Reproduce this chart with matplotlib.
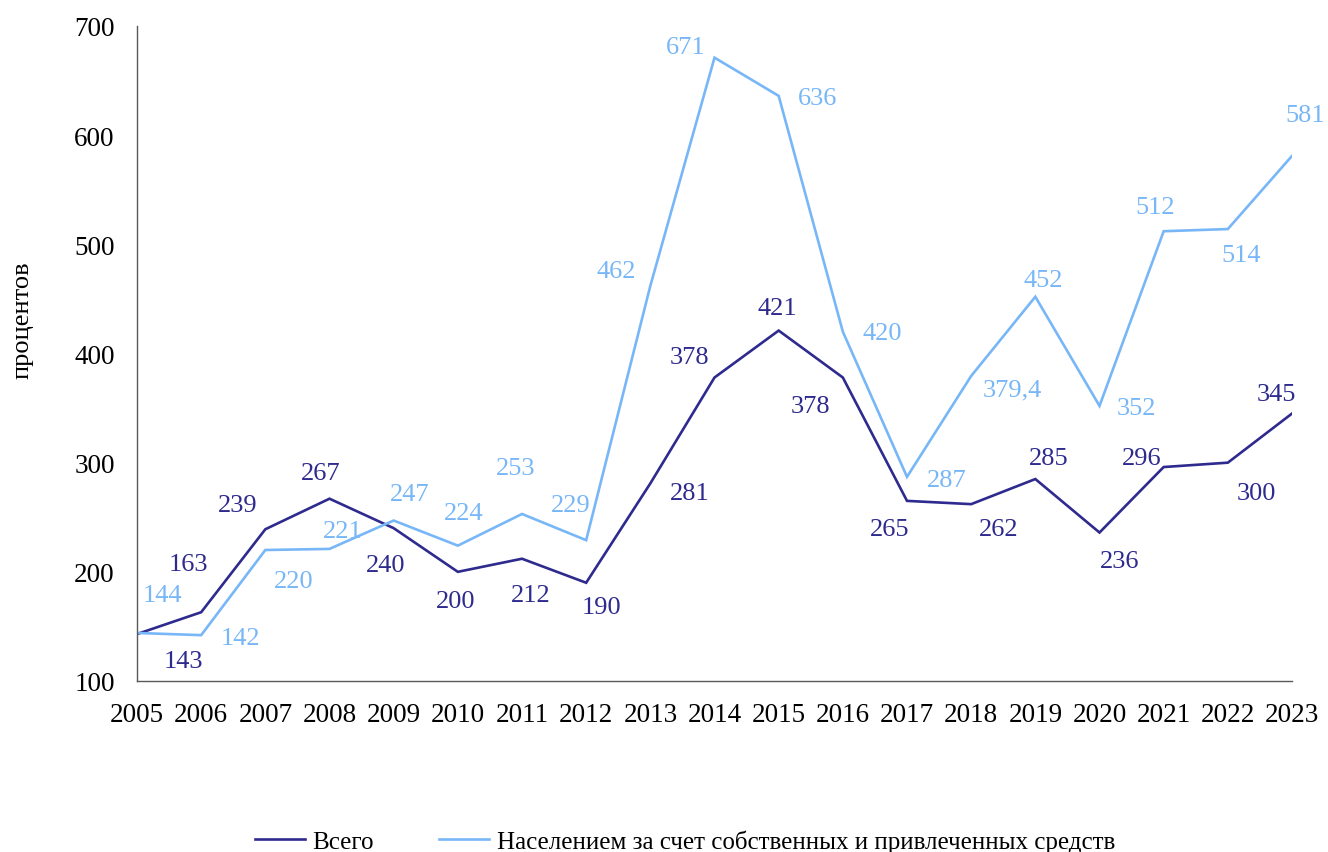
import matplotlib
matplotlib.use("Agg")
import matplotlib.pyplot as plt

years = [str(y) for y in range(2005, 2024)]
total = [143, 163, 239, 267, 240, 200, 212, 190, 281, 378, 421, 378, 265, 262, 285, 236, 296, 300, 345]
population = [144, 142, 220, 221, 247, 224, 253, 229, 462, 671, 636, 420, 287, 379.4, 452, 352, 512, 514, 581]
total_labels = ["143", "163", "239", "267", "240", "200", "212", "190", "281", "378", "421", "378",
                "265", "262", "285", "236", "296", "300", "345"]
pop_labels = ["144", "142", "220", "221", "247", "224", "253", "229", "462", "671", "636", "420",
              "287", "379,4", "452", "352", "512", "514", "581"]
series_names = ["Всего", "Населением за счет собственных и привлеченных средств"]
y_label = "процентов"

# label offsets in pixels (dx right, dy down)
total_off = [(46, 25), (-13, -50), (-28, -26), (-9, -28), (-8, 35), (-2, 27), (9, 34), (15, 22),
             (39, 8), (-25, -23), (-1, -25), (-32, 26), (-17, 26), (28, 23), (13, -23), (20, 26),
             (-22, -11), (29, 28), (-16, -22)]
pop_off = [(25, -40), (39, 1), (28, 29), (13, -20), (16, -29), (6, -35), (-6, -48), (-15, -37),
           (-34, -17), (-29, -13), (39, 0), (39, -1), (40, 1), (41, 11), (8, -19), (37, 0),
           (-8, -26), (13, 24), (13, -43)]

c_dark = "#2E2A8E"
c_light = "#78B7F7"

plt.rcParams['font.family'] = ['Liberation Serif', 'DejaVu Serif']

W, H = 1328, 853
fig = plt.figure(figsize=(W / 100, H / 100), dpi=100)
ax = fig.add_axes([137 / W, 1 - 682 / H, (1292 - 137) / W, (682 - 27) / H])

x = list(range(len(years)))
ax.plot(x, total, color=c_dark, lw=1.9, label=series_names[0], solid_joinstyle='miter')
ax.plot(x, population, color=c_light, lw=1.9, label=series_names[1], solid_joinstyle='miter')

px = 0.72  # points per pixel
for i in x:
    dx, dy = total_off[i]
    ax.annotate(total_labels[i], (i, total[i]), xytext=(dx * px, -(dy + 2) * px), textcoords='offset points',
                ha='center', va='center', color=c_dark, fontsize=19)
    dx, dy = pop_off[i]
    ax.annotate(pop_labels[i], (i, population[i]), xytext=(dx * px, -(dy + 2) * px), textcoords='offset points',
                ha='center', va='center', color=c_light, fontsize=19)

ax.set_xlim(0, len(years) - 1)
ax.set_ylim(100, 700)
ax.set_yticks(range(100, 701, 100))
ax.set_xticks(x)
ax.set_xticklabels(years)
ax.tick_params(axis='both', length=0, labelsize=19.5, colors='black')
ax.tick_params(axis='y', pad=16)
ax.tick_params(axis='x', pad=15)
for s in ['top', 'right']:
    ax.spines[s].set_visible(False)
for s in ['left', 'bottom']:
    ax.spines[s].set_color('#595959')
    ax.spines[s].set_linewidth(1.0)

fig.text(22 / W, 1 - 320 / H, y_label, rotation=90, ha='center', va='center', fontsize=19)

fig.legend(loc='center', bbox_to_anchor=(685 / W, 1 - 842 / H), ncol=2, frameon=False,
           fontsize=18, handlelength=2.0, columnspacing=2.6, handletextpad=0.3,
           borderpad=0.1)

fig.savefig("out.png", dpi=100)
